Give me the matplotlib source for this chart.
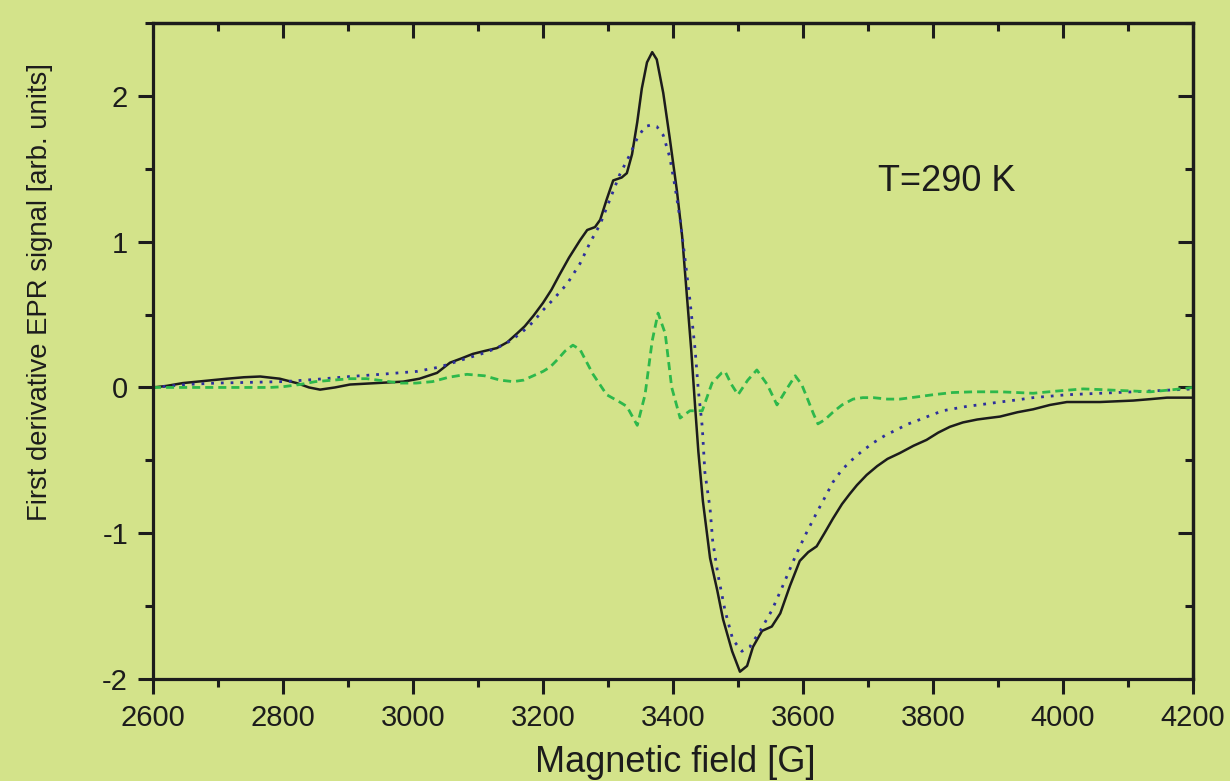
import matplotlib
matplotlib.use("Agg")
import matplotlib.pyplot as plt
from matplotlib.ticker import MultipleLocator

plt.rcParams['font.family'] = ['Liberation Sans', 'DejaVu Sans']
plt.rcParams['axes.unicode_minus'] = False

# measured spectrum (solid black)
field_exp = [2600, 2620, 2646, 2680, 2714, 2740, 2765, 2795, 2821, 2840, 2857, 2880, 2903,
             2944, 2985, 3010, 3037, 3057, 3075, 3092, 3110, 3129, 3145, 3160, 3172, 3185,
             3200, 3213, 3225, 3240, 3257, 3268, 3280, 3288, 3298, 3308, 3321, 3329, 3337,
             3345, 3352, 3360, 3368, 3375, 3385, 3395, 3406, 3414, 3421, 3428, 3434, 3439,
             3446, 3457, 3468, 3477, 3491, 3503, 3514, 3523, 3537, 3552, 3565, 3580, 3595,
             3608, 3621, 3633, 3646, 3660, 3672, 3683, 3698, 3714, 3730, 3749, 3770, 3790,
             3808, 3826, 3846, 3868, 3885, 3903, 3930, 3954, 3980, 4006, 4057, 4108, 4135,
             4160, 4200]
signal_exp = [0.00, 0.01, 0.03, 0.045, 0.06, 0.07, 0.075, 0.06, 0.03, 0.00, -0.015, 0.00, 0.02,
              0.03, 0.04, 0.06, 0.10, 0.17, 0.20, 0.23, 0.25, 0.27, 0.31, 0.37, 0.42, 0.49,
              0.58, 0.67, 0.77, 0.89, 1.01, 1.08, 1.10, 1.15, 1.29, 1.42, 1.44, 1.47, 1.60,
              1.82, 2.05, 2.23, 2.30, 2.25, 2.02, 1.71, 1.35, 1.04, 0.65, 0.26, -0.13, -0.44,
              -0.78, -1.17, -1.39, -1.59, -1.81, -1.95, -1.91, -1.78, -1.67, -1.64, -1.55, -1.36,
              -1.19, -1.13, -1.09, -1.00, -0.90, -0.80, -0.73, -0.67, -0.60, -0.54, -0.49, -0.45,
              -0.40, -0.36, -0.31, -0.27, -0.24, -0.22, -0.21, -0.20, -0.17, -0.15, -0.12, -0.10,
              -0.10, -0.09, -0.08, -0.07, -0.07]

# fitted line (blue dotted)
field_fit = [2600, 2650, 2698, 2750, 2800, 2850, 2903, 2950, 3006, 3041, 3083, 3105, 3129,
             3150, 3168, 3185, 3200, 3215, 3237, 3257, 3272, 3288, 3303, 3318, 3334, 3345,
             3357, 3366, 3375, 3385, 3395, 3403, 3411, 3418, 3426, 3434, 3439, 3445, 3449,
             3457, 3461, 3469, 3480, 3492, 3506, 3518, 3534, 3552, 3569, 3590, 3605, 3621,
             3633, 3646, 3659, 3672, 3690, 3708, 3726, 3744, 3762, 3780, 3797, 3815, 3833,
             3852, 3878, 3903, 3930, 3954, 3980, 4006, 4057, 4108, 4155, 4200]
signal_fit = [0.00, 0.02, 0.03, 0.035, 0.04, 0.055, 0.075, 0.09, 0.11, 0.14, 0.20, 0.23, 0.27,
              0.32, 0.38, 0.45, 0.53, 0.60, 0.71, 0.85, 0.99, 1.12, 1.29, 1.46, 1.60, 1.71,
              1.79, 1.80, 1.79, 1.73, 1.58, 1.38, 1.15, 0.90, 0.60, 0.26, -0.02, -0.27, -0.58,
              -0.83, -1.05, -1.28, -1.53, -1.73, -1.81, -1.78, -1.67, -1.53, -1.36, -1.14, -1.00,
              -0.86, -0.76, -0.65, -0.57, -0.51, -0.44, -0.38, -0.33, -0.29, -0.25, -0.22, -0.19,
              -0.16, -0.145, -0.13, -0.115, -0.10, -0.085, -0.07, -0.06, -0.05, -0.04, -0.03,
              -0.02, -0.01]

# difference (green dashed)
field_diff = [2600, 2700, 2780, 2800, 2826, 2850, 2877, 2903, 2929, 2955, 2980, 3005, 3030,
              3055, 3083, 3110, 3134, 3154, 3170, 3185, 3200, 3211, 3222, 3234, 3246, 3257,
              3277, 3298, 3318, 3329, 3345, 3357, 3368, 3377, 3388, 3398, 3411, 3426, 3445,
              3460, 3475, 3480, 3490, 3500, 3515, 3529, 3545, 3560, 3575, 3588, 3598, 3608,
              3616, 3623, 3634, 3646, 3660, 3677, 3692, 3708, 3730, 3749, 3775, 3800, 3830,
              3862, 3903, 3930, 3954, 3990, 4031, 4060, 4083, 4110, 4134, 4170, 4200]
signal_diff = [0.00, 0.00, 0.00, 0.005, 0.02, 0.04, 0.05, 0.06, 0.06, 0.045, 0.03, 0.03, 0.04,
               0.07, 0.09, 0.08, 0.05, 0.04, 0.05, 0.08, 0.11, 0.14, 0.19, 0.25, 0.29, 0.26,
               0.09, -0.05, -0.10, -0.13, -0.26, -0.05, 0.32, 0.51, 0.37, 0.00, -0.21, -0.16,
               -0.16, 0.03, 0.10, 0.11, 0.02, -0.05, 0.05, 0.12, 0.02, -0.12, -0.01, 0.08, 0.02,
               -0.09, -0.18, -0.25, -0.22, -0.17, -0.12, -0.08, -0.07, -0.07, -0.08, -0.08, -0.065,
               -0.05, -0.035, -0.03, -0.03, -0.035, -0.04, -0.025, -0.01, -0.015, -0.02, -0.025,
               -0.03, -0.015, 0.00]

bg = '#d3e38a'
ink = '#1c1c1c'
fig = plt.figure(figsize=(12.3, 7.81), dpi=100, facecolor=bg)
ax = fig.add_axes([153/1230, 1 - 679/781, 1040/1230, 656/781], facecolor=bg)

ax.plot(field_exp, signal_exp, color=ink, lw=1.8, solid_joinstyle='round')
ax.plot(field_fit, signal_fit, color='#2d2f9c', lw=2.0, linestyle=(0, (1, 2.5)))
ax.plot(field_diff, signal_diff, color='#2db84b', lw=2.0, linestyle=(0, (2.9, 1.8)))

ax.set_xlim(2600, 4200)
ax.set_ylim(-2, 2.5)
ax.xaxis.set_major_locator(MultipleLocator(200))
ax.xaxis.set_minor_locator(MultipleLocator(100))
ax.yaxis.set_major_locator(MultipleLocator(1))
ax.yaxis.set_minor_locator(MultipleLocator(0.5))

for s in ax.spines.values():
    s.set_linewidth(2.3)
    s.set_color(ink)

ax.tick_params(which='both', direction='out', width=2.2, color=ink,
               labelsize=21, labelcolor=ink, top=False, right=False)
ax.tick_params(which='major', length=11, pad=7)
ax.tick_params(which='minor', length=6)

# inward ticks on top and right
top = ax.secondary_xaxis('top')
top.xaxis.set_major_locator(MultipleLocator(200))
top.xaxis.set_minor_locator(MultipleLocator(100))
top.tick_params(which='both', direction='in', width=2.2, color=ink, labeltop=False)
top.tick_params(which='major', length=11)
top.tick_params(which='minor', length=6)
top.spines['top'].set_linewidth(2.3)

right = ax.secondary_yaxis('right')
right.yaxis.set_major_locator(MultipleLocator(1))
right.yaxis.set_minor_locator(MultipleLocator(0.5))
right.tick_params(which='both', direction='in', width=2.2, color=ink, labelright=False)
right.tick_params(which='major', length=11)
right.tick_params(which='minor', length=6)
right.spines['right'].set_linewidth(2.3)

ax.set_xlabel('Magnetic field [G]', fontsize=26, color=ink, va='top')
ax.xaxis.set_label_coords(0.502, -0.10)
ax.set_ylabel('First derivative EPR signal [arb. units]', fontsize=19.8, color=ink)
ax.yaxis.set_label_coords(-0.096, 0.59)

ax.text(3715, 1.35, 'T=290 K', fontsize=26, color=ink, va='baseline', ha='left')

fig.savefig('out.png', dpi=100, facecolor=bg)
